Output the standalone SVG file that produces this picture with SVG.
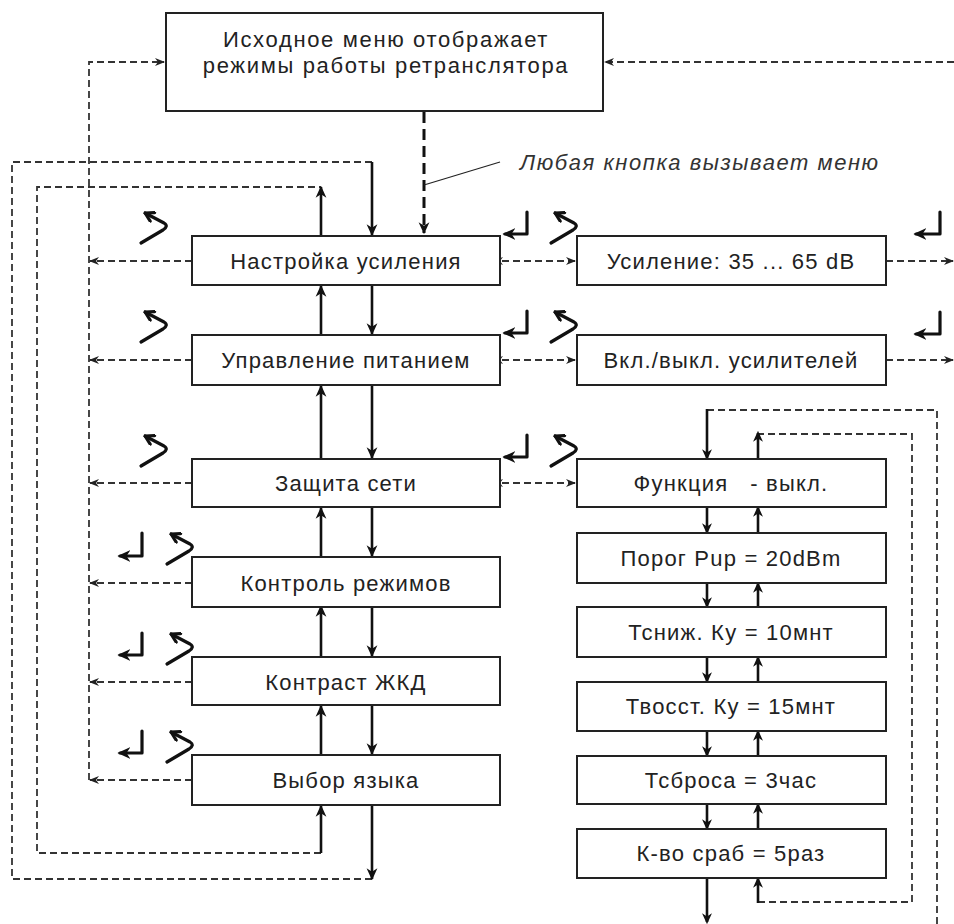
<svg xmlns="http://www.w3.org/2000/svg" width="954" height="924" viewBox="0 0 954 924">
<style>
.box{fill:#fff;stroke:#222;stroke-width:2}
.t{font-family:"Liberation Sans",Arial,sans-serif;font-size:22px;fill:#222;text-anchor:middle;letter-spacing:1.2px}
.tt{letter-spacing:1.65px}
.ti{font-family:"Liberation Sans",Arial,sans-serif;font-size:22px;font-style:italic;fill:#333;letter-spacing:1.55px}
.s{fill:none;stroke:#111;stroke-width:2.6}
.d{fill:none;stroke:#333;stroke-width:1.8;stroke-dasharray:7,4}
.dd{fill:none;stroke:#111;stroke-width:3;stroke-dasharray:11,6}
.ic{fill:none;stroke:#111;stroke-width:3.2;stroke-linecap:round;stroke-linejoin:round}
.ld{fill:none;stroke:#222;stroke-width:1.2}
</style>
<defs>
<marker id="a" viewBox="0 0 10 10" refX="9" refY="5" markerWidth="12" markerHeight="12" markerUnits="userSpaceOnUse" orient="auto"><path d="M0,0.5 L10,5 L0,9.5 L3,5 z" fill="#111"/></marker>
<marker id="ad" viewBox="0 0 10 10" refX="9" refY="5" markerWidth="10" markerHeight="10" markerUnits="userSpaceOnUse" orient="auto"><path d="M0,1 L10,5 L0,9 L3,5 z" fill="#222"/></marker>
<marker id="adr" viewBox="0 0 10 10" refX="1" refY="5" markerWidth="10" markerHeight="10" markerUnits="userSpaceOnUse" orient="auto-start-reverse"><path d="M0,1 L10,5 L0,9 L3,5 z" fill="#222"/></marker>
<marker id="ai" viewBox="0 0 10 10" refX="8" refY="5" markerWidth="11" markerHeight="11" markerUnits="userSpaceOnUse" orient="auto"><path d="M0,0.5 L10,5 L0,9.5 L3,5 z" fill="#111"/></marker>
<marker id="ar" viewBox="0 0 10 10" refX="8" refY="5" markerWidth="13" markerHeight="13" markerUnits="userSpaceOnUse" orient="auto"><path d="M0,0.5 L10,5 L0,9.5 L3,5 z" fill="#111"/></marker>
<marker id="ac" viewBox="0 0 10 10" refX="9" refY="5" markerWidth="12" markerHeight="12" markerUnits="userSpaceOnUse" orient="auto"><path d="M2,1 L9,5 L2,9" fill="none" stroke="#111" stroke-width="2.6" stroke-linecap="round" stroke-linejoin="round"/></marker>
</defs>

<g id="connectors">
<!-- outer and inner left loops -->
<polyline class="d" points="372,879 12,879 12,162 372,162"/>
<polyline class="d" points="321,853 37,853 37,187 321,187"/>
<!-- escape column to top menu -->
<polyline class="d" points="89,780 89,62 164,62" marker-end="url(#ad)"/>
<line class="d" x1="192" y1="261" x2="90" y2="261" marker-end="url(#ad)"/>
<line class="d" x1="192" y1="360" x2="90" y2="360" marker-end="url(#ad)"/>
<line class="d" x1="192" y1="483" x2="90" y2="483" marker-end="url(#ad)"/>
<line class="d" x1="192" y1="583" x2="90" y2="583" marker-end="url(#ad)"/>
<line class="d" x1="192" y1="682" x2="90" y2="682" marker-end="url(#ad)"/>
<line class="d" x1="192" y1="780" x2="90" y2="780" marker-end="url(#ad)"/>
<!-- top menu in/out -->
<line class="dd" x1="424" y1="112" x2="424" y2="233" marker-end="url(#a)"/>
<line class="ld" x1="424" y1="185" x2="500" y2="162"/>
<line class="d" x1="954" y1="62" x2="605" y2="62" marker-end="url(#ad)"/>
<!-- main column down -->
<line class="s" x1="372" y1="162" x2="372" y2="235" marker-end="url(#a)"/>
<line class="s" x1="372" y1="285" x2="372" y2="334" marker-end="url(#a)"/>
<line class="s" x1="372" y1="385" x2="372" y2="458" marker-end="url(#a)"/>
<line class="s" x1="372" y1="507" x2="372" y2="556" marker-end="url(#a)"/>
<line class="s" x1="372" y1="607" x2="372" y2="656" marker-end="url(#a)"/>
<line class="s" x1="372" y1="705" x2="372" y2="754" marker-end="url(#a)"/>
<line class="s" x1="372" y1="805" x2="372" y2="879" marker-end="url(#a)"/>
<!-- main column up -->
<line class="s" x1="321" y1="236" x2="321" y2="187" marker-end="url(#a)"/>
<line class="s" x1="321" y1="335" x2="321" y2="286" marker-end="url(#a)"/>
<line class="s" x1="321" y1="459" x2="321" y2="386" marker-end="url(#a)"/>
<line class="s" x1="321" y1="557" x2="321" y2="508" marker-end="url(#a)"/>
<line class="s" x1="321" y1="657" x2="321" y2="606" marker-end="url(#a)"/>
<line class="s" x1="321" y1="755" x2="321" y2="706" marker-end="url(#a)"/>
<line class="s" x1="321" y1="853" x2="321" y2="806" marker-end="url(#a)"/>
<!-- side links -->
<line class="d" x1="502" y1="261" x2="575" y2="261" marker-start="url(#adr)" marker-end="url(#ad)"/>
<line class="d" x1="502" y1="360" x2="575" y2="360" marker-start="url(#adr)" marker-end="url(#ad)"/>
<line class="d" x1="502" y1="483" x2="575" y2="483" marker-start="url(#adr)" marker-end="url(#ad)"/>
<line class="d" x1="886" y1="261" x2="953" y2="261" marker-end="url(#ad)"/>
<line class="d" x1="886" y1="360" x2="953" y2="360" marker-end="url(#ad)"/>
<!-- chain down -->
<polyline class="d" points="707,410 937,410 937,924"/>
<line class="s" x1="707" y1="409" x2="707" y2="458" marker-end="url(#ai)"/>
<line class="s" x1="707" y1="507" x2="707" y2="532" marker-end="url(#ai)"/>
<line class="s" x1="707" y1="583" x2="707" y2="606" marker-end="url(#ai)"/>
<line class="s" x1="707" y1="657" x2="707" y2="681" marker-end="url(#ai)"/>
<line class="s" x1="707" y1="731" x2="707" y2="755" marker-end="url(#ai)"/>
<line class="s" x1="707" y1="804" x2="707" y2="828" marker-end="url(#ai)"/>
<line class="s" x1="707" y1="878" x2="707" y2="922" marker-end="url(#ai)"/>
<!-- chain up -->
<polyline class="d" points="758,902 912,902 912,434 758,434"/>
<line class="s" x1="758" y1="459" x2="758" y2="433" marker-end="url(#ai)"/>
<line class="s" x1="758" y1="533" x2="758" y2="508" marker-end="url(#ai)"/>
<line class="s" x1="758" y1="607" x2="758" y2="584" marker-end="url(#ai)"/>
<line class="s" x1="758" y1="682" x2="758" y2="658" marker-end="url(#ai)"/>
<line class="s" x1="758" y1="756" x2="758" y2="732" marker-end="url(#ai)"/>
<line class="s" x1="758" y1="829" x2="758" y2="805" marker-end="url(#ai)"/>
<line class="s" x1="758" y1="903" x2="758" y2="879" marker-end="url(#ai)"/>
</g>

<g id="icons">
<!-- escape (curved) icons -->
<path class="ic" d="M141,243 L163,230 Q169,226 164,223 L145,213" marker-end="url(#ac)"/>
<path class="ic" d="M141,342 L163,329 Q169,325 164,322 L145,312" marker-end="url(#ac)"/>
<path class="ic" d="M141,466 L163,453 Q169,449 164,446 L145,436" marker-end="url(#ac)"/>
<path class="ic" d="M167,564 L189,551 Q195,547 190,544 L171,534" marker-end="url(#ac)"/>
<path class="ic" d="M167,664 L189,651 Q195,647 190,644 L171,634" marker-end="url(#ac)"/>
<path class="ic" d="M167,762 L189,749 Q195,745 190,742 L171,732" marker-end="url(#ac)"/>
<path class="ic" d="M551,243 L573,230 Q579,226 574,223 L555,213" marker-end="url(#ac)"/>
<path class="ic" d="M551,342 L573,329 Q579,325 574,322 L555,312" marker-end="url(#ac)"/>
<path class="ic" d="M551,466 L573,453 Q579,449 574,446 L555,436" marker-end="url(#ac)"/>
<!-- enter icons -->
<path class="ic" d="M142,533 L142,556 L120,556" marker-end="url(#ar)"/>
<path class="ic" d="M142,633 L142,655 L120,655" marker-end="url(#ar)"/>
<path class="ic" d="M142,731 L142,753 L120,753" marker-end="url(#ar)"/>
<path class="ic" d="M527,212 L527,234 L505,234" marker-end="url(#ar)"/>
<path class="ic" d="M527,311 L527,333 L505,333" marker-end="url(#ar)"/>
<path class="ic" d="M527,435 L527,457 L505,457" marker-end="url(#ar)"/>
<path class="ic" d="M940,212 L940,234 L916,234" marker-end="url(#ar)"/>
<path class="ic" d="M940,312 L940,334 L916,334" marker-end="url(#ar)"/>
</g>

<g id="top-menu"><rect class="box" x="166" y="13" width="437" height="98"/>
<text class="t tt" x="386" y="47">Исходное меню отображает</text>
<text class="t tt" x="386" y="73">режимы работы ретранслятора</text></g>
<g id="note"><text class="ti" x="520" y="170">Любая кнопка вызывает меню</text></g>

<g id="gain-setup"><rect class="box" x="192" y="236" width="308" height="49"/><text class="t" x="346" y="269">Настройка усиления</text></g>
<g id="power"><rect class="box" x="192" y="335" width="308" height="50"/><text class="t" x="346" y="368">Управление питанием</text></g>
<g id="protection"><rect class="box" x="192" y="459" width="308" height="48"/><text class="t" x="346" y="491">Защита сети</text></g>
<g id="mode-control"><rect class="box" x="192" y="557" width="308" height="50"/><text class="t" x="346" y="591">Контроль режимов</text></g>
<g id="contrast"><rect class="box" x="192" y="657" width="308" height="48"/><text class="t" x="346" y="690">Контраст ЖКД</text></g>
<g id="language"><rect class="box" x="192" y="755" width="308" height="50"/><text class="t" x="346" y="788">Выбор языка</text></g>

<g id="gain"><rect class="box" x="577" y="236" width="309" height="49"/><text class="t" x="731" y="269">Усиление: 35 ... 65 dB</text></g>
<g id="amps"><rect class="box" x="577" y="335" width="309" height="50"/><text class="t" x="731" y="368">Вкл./выкл. усилителей</text></g>
<g id="function"><rect class="box" x="577" y="459" width="309" height="48"/><text class="t" x="731" y="491" xml:space="preserve">Функция   - выкл.</text></g>
<g id="threshold"><rect class="box" x="577" y="533" width="309" height="50"/><text class="t" x="731" y="566">Порог Pup = 20dBm</text></g>
<g id="t-down"><rect class="box" x="577" y="607" width="309" height="50"/><text class="t" x="731" y="640">Тсниж. Ку = 10мнт</text></g>
<g id="t-restore"><rect class="box" x="577" y="682" width="309" height="49"/><text class="t" x="731" y="714">Твосст. Ку = 15мнт</text></g>
<g id="t-reset"><rect class="box" x="577" y="756" width="309" height="48"/><text class="t" x="731" y="788">Тсброса = 3час</text></g>
<g id="count"><rect class="box" x="577" y="829" width="309" height="49"/><text class="t" x="731" y="861">К-во сраб = 5раз</text></g>
</svg>
